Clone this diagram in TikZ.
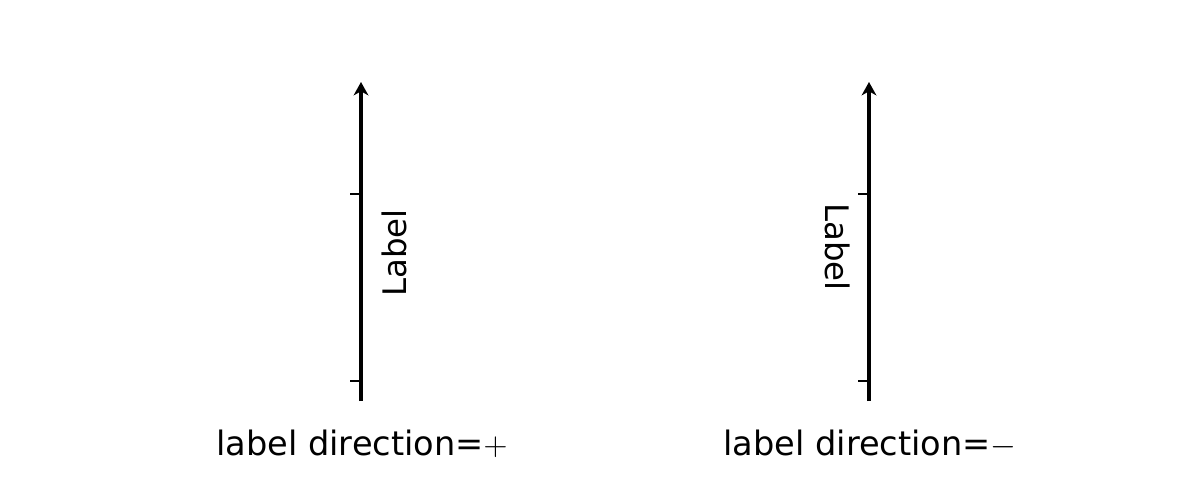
\documentclass[tikz,border=0pt]{standalone}
\usepackage{fontspec}
\setmainfont{DejaVu Sans}
\usetikzlibrary{arrows.meta}
\begin{document}
\begin{tikzpicture}[x=0.75pt,y=-0.75pt,
  axisline/.style={line width=2.3pt,-{Stealth[length=10pt,width=11pt,inset=3pt]}},
  tickline/.style={line width=1.2pt},
  lbl/.style={font=\fontsize{24.3}{28}\selectfont,inner sep=0pt},
  captext/.style={font=\fontsize{25.2}{30}\selectfont,inner sep=0pt,anchor=base}]
\useasboundingbox (0,0) rectangle (1200,500);
% left axis
\coordinate (la0) at (361,401);
\coordinate (la1) at (361,82);
\draw[axisline] (la0) -- (la1);
\coordinate (lt1) at (361,194); \coordinate (lt1e) at (350,194);
\coordinate (lt2) at (361,381); \coordinate (lt2e) at (350,381);
\draw[tickline] (lt1) -- (lt1e);
\draw[tickline] (lt2) -- (lt2e);
\node[lbl,rotate=90] (llab) at (394,253) {Label};
\node[captext] (lcap) at (362,455) {label direction=$+$};
% right axis
\coordinate (ra0) at (869,401);
\coordinate (ra1) at (869,82);
\draw[axisline] (ra0) -- (ra1);
\coordinate (rt1) at (869,194); \coordinate (rt1e) at (858,194);
\coordinate (rt2) at (869,381); \coordinate (rt2e) at (858,381);
\draw[tickline] (rt1) -- (rt1e);
\draw[tickline] (rt2) -- (rt2e);
\node[lbl,rotate=-90] (rlab) at (838,247) {Label};
\node[captext] (rcap) at (870,455) {label direction=$-$};
\end{tikzpicture}
\end{document}
